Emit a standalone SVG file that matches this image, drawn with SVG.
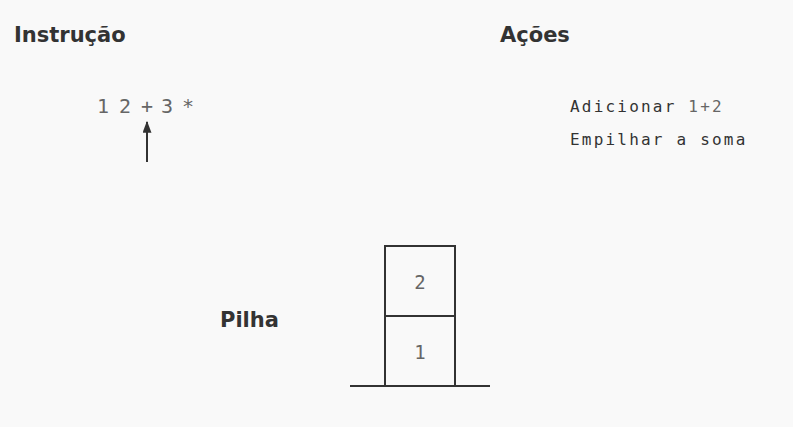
<svg xmlns="http://www.w3.org/2000/svg" width="793" height="427" viewBox="0 0 793 427">
<style>
.title{font-family:"DejaVu Sans","Liberation Sans",sans-serif;font-weight:bold;font-size:21px;fill:#333}
.mono{font-family:"DejaVu Sans Mono","Liberation Mono",monospace;fill:#666}
.act{font-family:"DejaVu Sans Mono","Liberation Mono",monospace;font-size:16px;letter-spacing:2.2px;fill:#333}
.box{fill:none;stroke:#333;stroke-width:2}
</style>
<defs>
<marker id="ah" viewBox="0 0 10 10" preserveAspectRatio="none" refX="9" refY="5" markerWidth="12" markerHeight="9" markerUnits="userSpaceOnUse" orient="auto">
<path d="M0,0 L10,5 L0,10 z" fill="#333"/>
</marker>
</defs>
<rect width="793" height="427" fill="#f9f9f9"/>
<g id="instrucao">
<text class="title" x="14" y="42">Instrução</text>
<g class="mono" font-size="20" text-anchor="middle">
<text x="103" y="113">1</text>
<text x="125" y="113">2</text>
<text x="147" y="113">+</text>
<text x="167" y="113">3</text>
<text x="188" y="113">*</text>
</g>
</g>
<g id="acoes">
<text class="title" x="500" y="42">Ações</text>
<text class="act" x="570" y="112">Adicionar <tspan fill="#666">1+2</tspan></text>
<text class="act" x="570" y="145">Empilhar a soma</text>
</g>
<g id="pilha">
<text class="title" x="220" y="327">Pilha</text>
<line class="box" x1="350" y1="386" x2="490" y2="386"/>
<g id="item1">
<rect class="box" x="385" y="316" width="70" height="70"/>
<text class="mono" font-size="19" x="420" y="359" text-anchor="middle">1</text>
</g>
<g id="item2">
<rect class="box" x="385" y="246" width="70" height="70"/>
<text class="mono" font-size="19" x="420" y="289" text-anchor="middle">2</text>
</g>
</g>
<g id="connectors">
<line x1="147" y1="162" x2="147" y2="122" stroke="#333" stroke-width="2" marker-end="url(#ah)"/>
</g>
</svg>
